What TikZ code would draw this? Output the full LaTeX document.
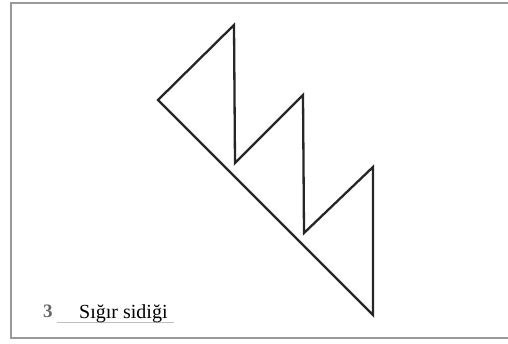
\documentclass[tikz,border=0pt]{standalone}
\usepackage{fontspec}
\setmainfont{Liberation Serif}
\begin{document}
\begin{tikzpicture}[x=1pt,y=-1pt,
  shapeline/.style={line width=2.3pt,line join=miter,black!85},
  framebox/.style={line width=1.8pt,draw=black!40},
  lbl/.style={inner sep=0pt,anchor=base west,font=\fontsize{20}{22}\selectfont}]
\useasboundingbox (0,0) rectangle (508,343);
\clip (0,0) rectangle (508,343);
\draw[framebox] (11,3) rectangle (520,338);
\coordinate (L) at (158,100);
\coordinate (T1) at (234,25);
\coordinate (B1) at (235,163);
\coordinate (T2) at (303,95);
\coordinate (B2) at (304,233);
\coordinate (T3) at (373,167);
\coordinate (B3) at (373,315);
\draw[shapeline] (L) -- (T1) -- (B1) -- (T2) -- (B2) -- (T3) -- (B3) -- cycle;
\node[lbl,text=black!60,font=\bfseries\fontsize{19}{22}\selectfont] (num) at (43,317) {3};
\coordinate (u1) at (57,322);
\coordinate (u2) at (174,322);
\draw[black!25,line width=1pt] (u1) -- (u2);
\node[lbl] (txt) at (79,318) {Sığır sidiği};
\end{tikzpicture}
\end{document}
